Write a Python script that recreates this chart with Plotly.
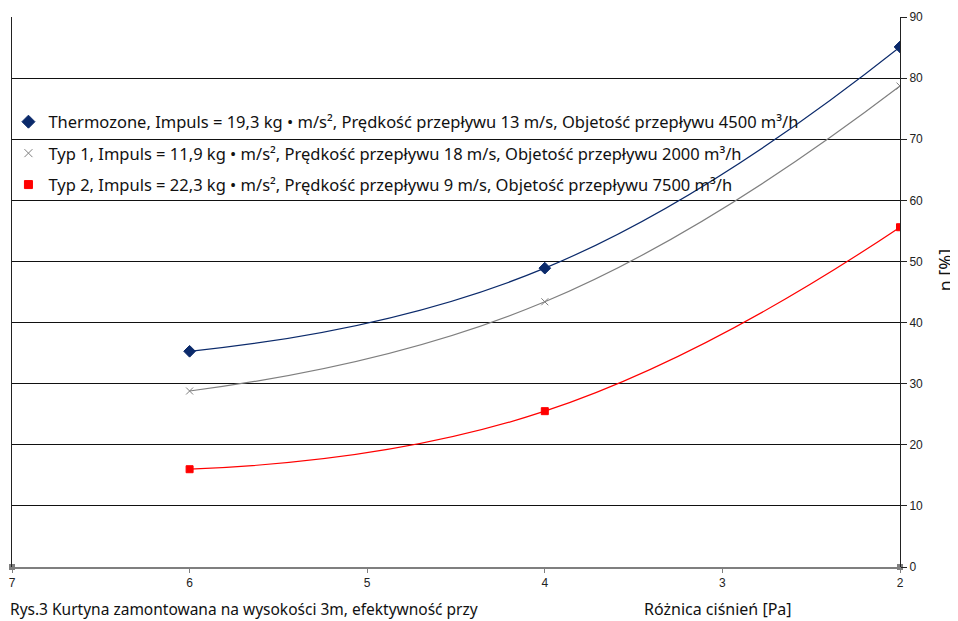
import plotly.graph_objects as go

x_vals = [6, 4, 2]
thermozone = [35.3, 48.9, 85.1]
typ1 = [28.8, 43.4, 78.7]
typ2 = [16.0, 25.5, 55.6]

names = [
    "Thermozone, Impuls = 19,3 kg • m/s², Prędkość przepływu 13 m/s, Objetość przepływu 4500 m³/h",
    "Typ 1, Impuls = 11,9 kg • m/s², Prędkość przepływu 18 m/s, Objetość przepływu 2000 m³/h",
    "Typ 2, Impuls = 22,3 kg • m/s², Prędkość przepływu 9 m/s, Objetość przepływu 7500 m³/h",
]
colors = ["#0b2a6b", "#7f7f7f", "#ff0000"]
symbols = ["diamond", "x-thin-open", "square"]
sizes = [9, 7, 7]
legend_sizes = [10, 8, 8]
series = [thermozone, typ1, typ2]

x_ticks = [7, 6, 5, 4, 3, 2]
y_ticks = [0, 10, 20, 30, 40, 50, 60, 70, 80, 90]
axis_end_x = [7, 2]
axis_end_y = [0, 0]

fig = go.Figure()
for i, (name, ys) in enumerate(zip(names, series)):
    fig.add_trace(go.Scatter(
        x=x_vals, y=ys, mode="lines+markers", line=dict(color=colors[i], width=1.2, shape="spline", smoothing=1.3),
        marker=dict(symbol=symbols[i], color=colors[i], size=sizes[i], line=dict(color=colors[i], width=1)),
        showlegend=False, yaxis="y"))
for i, name in enumerate(names):
    fig.add_trace(go.Scatter(
        x=[None], y=[None], mode="markers", name=name, legendgroup=str(i),
        marker=dict(symbol=symbols[i], color=colors[i], size=legend_sizes[i], line=dict(color=colors[i], width=1))))

fig.add_trace(go.Scatter(x=axis_end_x, y=axis_end_y, mode="markers",
                         marker=dict(symbol="square", color="#7f7f7f", size=6),
                         showlegend=False, cliponaxis=False))

fig.update_layout(
    width=950, height=613,
    margin=dict(l=4, r=58, t=9, b=54, autoexpand=False),
    paper_bgcolor="white", plot_bgcolor="white",
    font=dict(family="Liberation Sans, Arial", size=12, color="#222"),
    xaxis=dict(range=[7, 2], tickvals=x_ticks, showgrid=False, zeroline=False, automargin=False,
               showline=True, linecolor="#7f7f7f", linewidth=1.5,
               ticks="outside", ticklen=4, tickcolor="#7f7f7f", ticklabeloverflow="allow",
               tickfont=dict(family="Liberation Sans, Arial", size=12, color="#222")),
    yaxis=dict(range=[0, 90], tickvals=y_ticks, side="right", showgrid=True, automargin=False,
               gridcolor="#111", gridwidth=1, zeroline=False,
               showline=True, linecolor="#222", linewidth=1, mirror=True,
               ticks="outside", ticklen=6, tickcolor="#222",
               tickfont=dict(family="Liberation Sans, Arial", size=12, color="#222")),
    legend=dict(x=-0.004, y=0.841, xanchor="left", yanchor="top", bgcolor="rgba(0,0,0,0)",
                font=dict(family="Noto Sans, Open Sans", size=16.5, color="#111"),
                tracegroupgap=7),
    annotations=[
        dict(text="Różnica ciśnień [Pa]", xref="paper", yref="paper", x=0.795, y=-0.076,
             xanchor="center", yanchor="middle", showarrow=False,
             font=dict(family="Noto Sans, Open Sans", size=16, color="#111")),
        dict(text="Rys.3 Kurtyna zamontowana na wysokości 3m, efektywność przy", xref="paper", yref="paper",
             x=-0.004, y=-0.076, xanchor="left", yanchor="middle", showarrow=False,
             font=dict(family="Noto Sans, Open Sans", size=15.5, color="#111")),
        dict(text="η [%]", xref="paper", yref="paper", x=1.051, y=0.54, textangle=-90,
             xanchor="center", yanchor="middle", showarrow=False,
             font=dict(family="Noto Sans, Open Sans", size=18, color="#111")),
    ],
)

fig.write_html("out.html")
